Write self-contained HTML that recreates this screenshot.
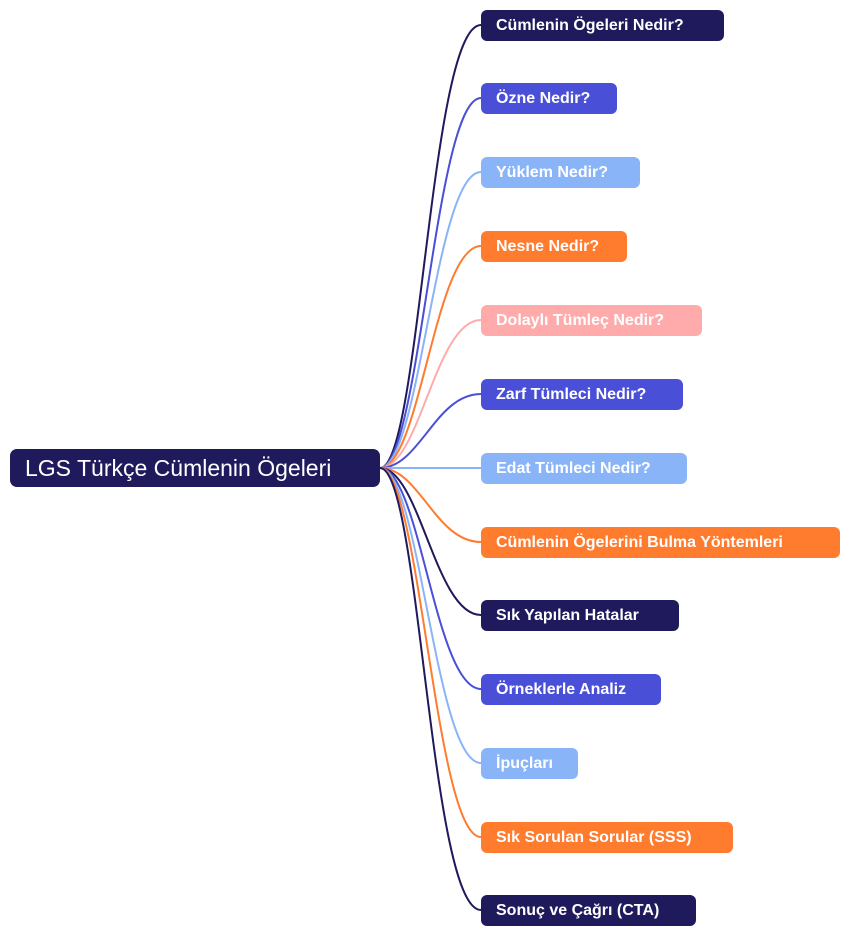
<!DOCTYPE html>
<html><head><meta charset="utf-8"><style>
body{margin:0;width:850px;height:936px;background:#fff;position:relative;font-family:"Liberation Sans","DejaVu Sans",sans-serif;overflow:hidden}
.n{position:absolute;left:481px;height:31px;border-radius:6px;color:#fff;font-weight:bold;font-size:16px;line-height:32px;padding-left:15px;box-sizing:border-box;white-space:nowrap}
.root{position:absolute;left:10px;top:449px;width:370px;height:38px;background:#1e1a5c;border-radius:7px;color:#fff;font-size:23px;line-height:39px;padding-left:15px;box-sizing:border-box}
svg{position:absolute;left:0;top:0}
</style></head><body>
<svg width="850" height="936" fill="none" stroke-width="2">
<path d="M380 468 C420 468 430 25 481 25" stroke="#1e1a5c"/>
<path d="M380 468 C420 468 435 98 481 98" stroke="#4a4fd8"/>
<path d="M380 468 C420 468 435 172 481 172" stroke="#8ab4f8"/>
<path d="M380 468 C420 468 435 246 481 246" stroke="#ff7b2e"/>
<path d="M380 468 C420 468 435 320 481 320" stroke="#ffabab"/>
<path d="M380 468 C420 468 435 394 481 394" stroke="#4a4fd8"/>
<path d="M380 468 L481 468" stroke="#8ab4f8"/>
<path d="M380 468 C420 468 435 542 481 542" stroke="#ff7b2e"/>
<path d="M380 468 C420 468 435 615 481 615" stroke="#1e1a5c"/>
<path d="M380 468 C420 468 435 689 481 689" stroke="#4a4fd8"/>
<path d="M380 468 C420 468 435 763 481 763" stroke="#8ab4f8"/>
<path d="M380 468 C420 468 435 837 481 837" stroke="#ff7b2e"/>
<path d="M380 468 C420 468 430 910 481 910" stroke="#1e1a5c"/>
</svg>
<div class="root">LGS Türkçe Cümlenin Ögeleri</div>
<div class="n" style="top:10px;width:243px;background:#1e1a5c">Cümlenin Ögeleri Nedir?</div>
<div class="n" style="top:83px;width:136px;background:#4a4fd8">Özne Nedir?</div>
<div class="n" style="top:157px;width:159px;background:#8ab4f8">Yüklem Nedir?</div>
<div class="n" style="top:231px;width:146px;background:#ff7b2e">Nesne Nedir?</div>
<div class="n" style="top:305px;width:221px;background:#ffabab">Dolaylı Tümleç Nedir?</div>
<div class="n" style="top:379px;width:202px;background:#4a4fd8">Zarf Tümleci Nedir?</div>
<div class="n" style="top:453px;width:206px;background:#8ab4f8">Edat Tümleci Nedir?</div>
<div class="n" style="top:527px;width:359px;background:#ff7b2e">Cümlenin Ögelerini Bulma Yöntemleri</div>
<div class="n" style="top:600px;width:198px;background:#1e1a5c">Sık Yapılan Hatalar</div>
<div class="n" style="top:674px;width:180px;background:#4a4fd8">Örneklerle Analiz</div>
<div class="n" style="top:748px;width:97px;background:#8ab4f8">İpuçları</div>
<div class="n" style="top:822px;width:252px;background:#ff7b2e">Sık Sorulan Sorular (SSS)</div>
<div class="n" style="top:895px;width:215px;background:#1e1a5c">Sonuç ve Çağrı (CTA)</div>
</body></html>
